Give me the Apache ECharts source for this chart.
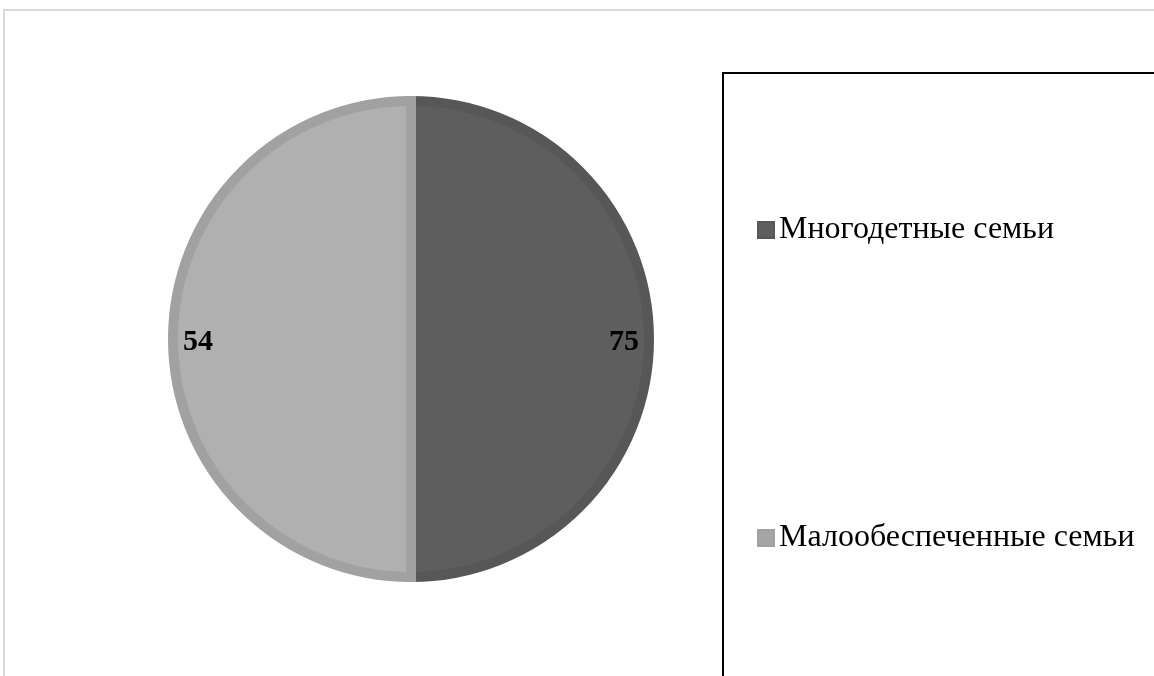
<!DOCTYPE html>
<html>
<head>
<meta charset="utf-8">
<script src="https://cdn.jsdelivr.net/npm/echarts@6/dist/echarts.min.js"></script>
<style>
  html, body { margin: 0; padding: 0; background: #fff; }
  #chart { width: 1154px; height: 676px; }
</style>
</head>
<body>
<div id="chart"></div>
<script>
// категории
const categories = ['Многодетные семьи', 'Малообеспеченные семьи']
// подписи на секторах
const labelValues = [75, 54]
// доли секторов, как нарисовано на картинке (ровно пополам)
const sliceShare = [50, 50]

const fillColors = ['#5e5e5e', '#b0b0b0']
const borderColors = ['#575757', '#a1a1a1']
const legendColors = ['#5e5e5e', '#a6a6a6']

const chart = echarts.init(document.getElementById('chart'))

const option = {
  animation: false,
  graphic: [
    {
      // рамка всей диаграммы
      type: 'rect',
      shape: { x: 4, y: 10, width: 1200, height: 720 },
      style: { fill: 'none', stroke: '#d9d9d9', lineWidth: 2 },
      silent: true
    },
    {
      // рамка легенды
      type: 'rect',
      shape: { x: 723, y: 73, width: 600, height: 700 },
      style: { fill: 'none', stroke: '#000', lineWidth: 2 },
      silent: true
    }
  ],
  legend: {
    orient: 'vertical',
    left: 757,
    top: 214,
    padding: 0,
    itemGap: 276,
    itemWidth: 16,
    itemHeight: 16,
    icon: 'rect',
    selectedMode: false,
    textStyle: { fontFamily: 'Liberation Serif', fontSize: 32, color: '#000' },
    data: categories.map((name, i) => ({ name: name, itemStyle: { color: legendColors[i] } }))
  },
  series: [
    {
      // сам круг
      type: 'pie',
      center: [411, 339],
      radius: [0, 238],
      startAngle: 90,
      silent: true,
      label: { show: false },
      labelLine: { show: false },
      itemStyle: { borderWidth: 10, borderJoin: 'miter' },
      data: categories.map((name, i) => ({
        name: name,
        value: sliceShare[i],
        itemStyle: { color: fillColors[i], borderColor: borderColors[i] }
      }))
    },
    {
      // прозрачное кольцо только для подписей у края
      type: 'pie',
      center: [411, 342],
      radius: [180, 240],
      startAngle: 90,
      silent: true,
      labelLine: { show: false },
      label: {
        show: true,
        position: 'inside',
        fontFamily: 'Liberation Serif',
        fontWeight: 'bold',
        fontSize: 30,
        color: '#000'
      },
      itemStyle: { color: 'rgba(0,0,0,0)', borderWidth: 0 },
      data: categories.map((name, i) => ({
        name: name,
        value: sliceShare[i],
        label: { formatter: String(labelValues[i]) }
      }))
    }
  ]
}

chart.setOption(option)
</script>
</body>
</html>
